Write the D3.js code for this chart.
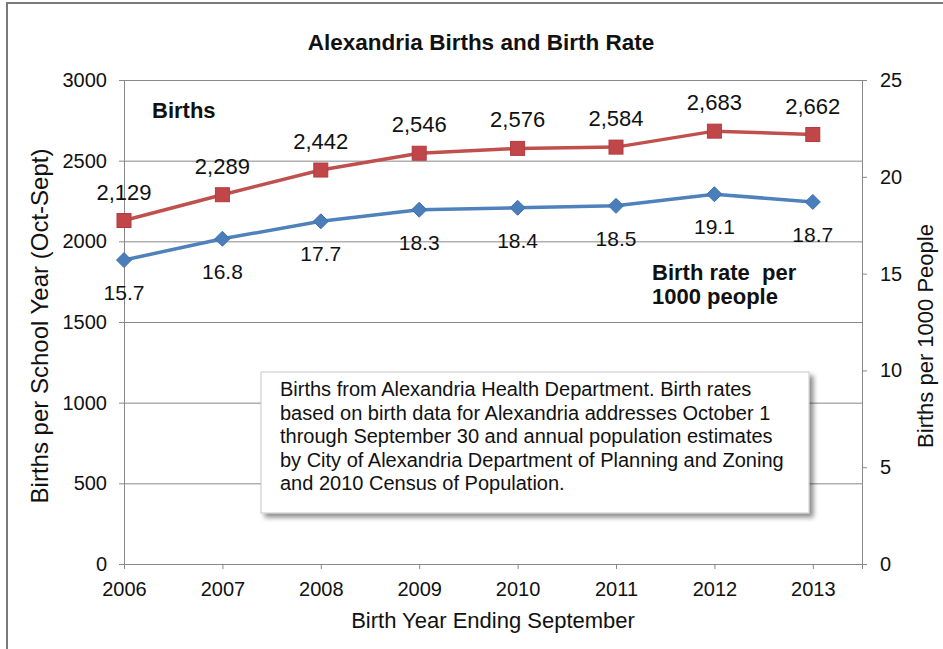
<!DOCTYPE html>
<html>
<head>
<meta charset="utf-8">
<script src="https://cdn.jsdelivr.net/npm/d3@7"></script>
<style>
  html, body { margin: 0; padding: 0; background: #fff; }
  svg { display: block; font-family: "Liberation Sans", Arial, sans-serif; }
</style>
</head>
<body>
<svg id="chart" width="943" height="649"></svg>
<script>
// ---- data ----
const years = [2006, 2007, 2008, 2009, 2010, 2011, 2012, 2013];
const births = [2129, 2289, 2442, 2546, 2576, 2584, 2683, 2662];
const birthRate = [15.7, 16.8, 17.7, 18.3, 18.4, 18.5, 19.1, 18.7];
const birthTicks = [0, 500, 1000, 1500, 2000, 2500, 3000];
const rateTicks = [0, 5, 10, 15, 20, 25];
const noteLines = [
  "Births from Alexandria Health Department. Birth rates",
  "based on birth data for Alexandria addresses October 1",
  "through September 30 and annual population estimates",
  "by City of Alexandria Department of Planning and Zoning",
  "and 2010 Census of Population."
];

// ---- layout ----
const plot = { left: 124, right: 862, top: 80, bottom: 564 };
const axisColor = "#888888";
const red = "#C0504D", blue = "#4F81BD";

const svg = d3.select("#chart");

const x = d3.scaleLinear().domain([2006, 2013.5]).range([plot.left, plot.right]);
const yB = d3.scaleLinear().domain([0, 3000]).range([plot.bottom, plot.top]);
const yR = d3.scaleLinear().domain([0, 25]).range([plot.bottom, plot.top]);

// outer frame (top and left edges)
svg.append("path")
  .attr("d", "M7,649 L7,3 L943,3")
  .attr("fill", "none")
  .attr("stroke", "#7a7a7a")
  .attr("stroke-width", 2);

// horizontal gridlines
svg.append("g")
  .attr("transform", `translate(${plot.left},0)`)
  .call(d3.axisLeft(yB).tickValues(birthTicks.filter(d => d > 0))
    .tickSize(-(plot.right - plot.left)).tickFormat(""))
  .call(g => g.select(".domain").remove())
  .call(g => g.selectAll("line").attr("stroke", axisColor));

// left axis
const gl = svg.append("g")
  .attr("transform", `translate(${plot.left},0)`)
  .call(d3.axisLeft(yB).tickValues(birthTicks).tickFormat(d3.format("d"))
    .tickSize(5).tickPadding(12));
// right axis
const gr = svg.append("g")
  .attr("transform", `translate(${plot.right},0)`)
  .call(d3.axisRight(yR).tickValues(rateTicks).tickSize(5).tickPadding(13));
// bottom axis
const gb = svg.append("g")
  .attr("transform", `translate(0,${plot.bottom})`)
  .call(d3.axisBottom(x).tickValues(years).tickFormat(d3.format("d"))
    .tickSize(5).tickPadding(13));

[gl, gr, gb].forEach(g => {
  g.attr("font-family", null).attr("font-size", null);
  g.selectAll(".domain").attr("stroke", axisColor);
  g.selectAll(".tick line").attr("stroke", axisColor);
  g.selectAll(".tick text").attr("fill", "#111").style("font-size", "20px");
});

// series lines
const lineB = d3.line().x((d, i) => x(years[i])).y(d => yB(d));
const lineR = d3.line().x((d, i) => x(years[i])).y(d => yR(d));

svg.append("path").datum(births)
  .attr("d", lineB).attr("fill", "none")
  .attr("stroke", red).attr("stroke-width", 3.5);
svg.append("path").datum(birthRate)
  .attr("d", lineR).attr("fill", "none")
  .attr("stroke", blue).attr("stroke-width", 3.5);

// markers
svg.append("g").selectAll("rect").data(births).join("rect")
  .attr("x", (d, i) => x(years[i]) - 7)
  .attr("y", d => yB(d) - 7)
  .attr("width", 14).attr("height", 14)
  .attr("fill", "#C0464A").attr("stroke", "#B23B3F").attr("stroke-width", 1);

svg.append("g").selectAll("path").data(birthRate).join("path")
  .attr("transform", (d, i) => `translate(${x(years[i])},${yR(d)})`)
  .attr("d", "M0,-7.5 L7.5,0 L0,7.5 L-7.5,0 Z")
  .attr("fill", "#4A7EBB").attr("stroke", "#3F70A8").attr("stroke-width", 1);

// value labels
svg.append("g").selectAll("text").data(births).join("text")
  .attr("x", (d, i) => x(years[i]))
  .attr("y", d => yB(d) - 21)
  .attr("text-anchor", "middle")
  .attr("font-size", 22).attr("fill", "#111")
  .text(d => d3.format(",")(d));

svg.append("g").selectAll("text").data(birthRate).join("text")
  .attr("x", (d, i) => x(years[i]))
  .attr("y", d => yR(d) + 40)
  .attr("text-anchor", "middle")
  .attr("font-size", 21).attr("fill", "#111")
  .text(d => d3.format(".1f")(d));

// series names
svg.append("text").attr("x", 152).attr("y", 118)
  .attr("font-size", 22).attr("font-weight", "bold").attr("fill", "#111")
  .text("Births");
const rateName = svg.append("text")
  .attr("font-size", 22).attr("font-weight", "bold").attr("fill", "#111")
  .style("white-space", "pre");
rateName.append("tspan").attr("x", 652).attr("y", 280).text("Birth rate  per");
rateName.append("tspan").attr("x", 652).attr("y", 304).text("1000 people");

// chart title
svg.append("text").attr("x", 481).attr("y", 50)
  .attr("text-anchor", "middle").attr("font-size", 22.5).attr("font-weight", "bold")
  .attr("fill", "#111").text("Alexandria Births and Birth Rate");

// axis titles
svg.append("text").attr("x", 493).attr("y", 628)
  .attr("text-anchor", "middle").attr("font-size", 22).attr("fill", "#111")
  .text("Birth Year Ending September");
svg.append("text")
  .attr("transform", `translate(48,326) rotate(-90)`)
  .attr("text-anchor", "middle").attr("font-size", 24).attr("fill", "#111")
  .text("Births per School Year (Oct-Sept)");
svg.append("text")
  .attr("transform", `translate(933,336) rotate(-90)`)
  .attr("text-anchor", "middle").attr("font-size", 22).attr("fill", "#111")
  .text("Births per 1000 People");

// source note with drop shadow
const defs = svg.append("defs");
const f = defs.append("filter").attr("id", "shadow")
  .attr("x", "-5%").attr("y", "-10%").attr("width", "115%").attr("height", "130%");
f.append("feDropShadow").attr("dx", 4).attr("dy", 4).attr("stdDeviation", 2.5)
  .attr("flood-color", "#000").attr("flood-opacity", 0.45);

const note = svg.append("g");
note.append("rect")
  .attr("x", 261).attr("y", 372).attr("width", 548).attr("height", 141)
  .attr("fill", "#fff").attr("stroke", "#c8c8c8").attr("stroke-width", 1)
  .attr("filter", "url(#shadow)");
note.append("g").selectAll("text").data(noteLines).join("text")
  .attr("x", 280)
  .attr("y", (d, i) => 396 + i * 23.5)
  .attr("font-size", 20).attr("fill", "#111")
  .text(d => d);
</script>
</body>
</html>
